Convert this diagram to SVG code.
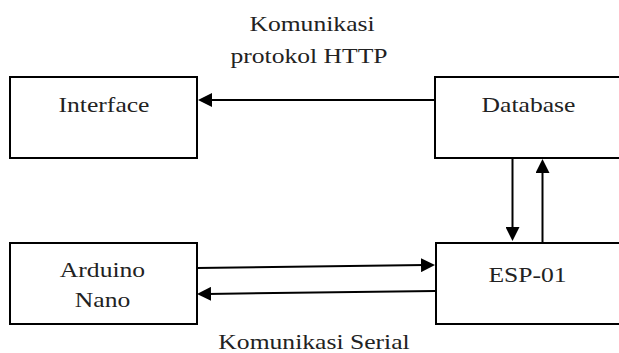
<svg xmlns="http://www.w3.org/2000/svg" width="619" height="353" viewBox="0 0 619 353">
<style>
.box{fill:#fff;stroke:#000;stroke-width:2}
.t{font-family:"Times New Roman","Liberation Serif","DejaVu Serif",serif;font-size:21px;fill:#222;text-anchor:middle}
.c{stroke:#000;stroke-width:2;fill:none;marker-end:url(#ah)}
</style>
<defs>
<marker id="ah" markerUnits="userSpaceOnUse" markerWidth="14" markerHeight="14" viewBox="0 0 14 14" refX="4" refY="7" orient="auto">
<path d="M0,0 L14,7 L0,14 z" fill="#000"/>
</marker>
</defs>
<rect width="619" height="353" fill="#fff"/>
<g id="interface">
<rect class="box" x="10" y="77" width="187" height="81"/>
<text class="t" transform="translate(104,112) scale(1.22,1)">Interface</text>
</g>
<g id="database">
<rect class="box" x="435" y="77" width="188" height="81"/>
<text class="t" transform="translate(528.5,112) scale(1.22,1)">Database</text>
</g>
<g id="arduino">
<rect class="box" x="10" y="243" width="187" height="81"/>
<text class="t" transform="translate(102.5,277) scale(1.22,1)">Arduino</text>
<text class="t" transform="translate(102.5,307) scale(1.22,1)">Nano</text>
</g>
<g id="esp01">
<rect class="box" x="436" y="243" width="188" height="81"/>
<text class="t" transform="translate(527.5,282) scale(1.22,1)">ESP-01</text>
</g>
<g id="connectors">
<line class="c" x1="435" y1="100" x2="208" y2="100"/>
<line class="c" x1="512.5" y1="158" x2="512.5" y2="231"/>
<line class="c" x1="542.5" y1="242" x2="542.5" y2="169"/>
<line class="c" x1="197" y1="268" x2="425" y2="265.1"/>
<line class="c" x1="435" y1="291" x2="207" y2="293.9"/>
</g>
<g id="labels">
<text class="t" transform="translate(312,31) scale(1.22,1)">Komunikasi</text>
<text class="t" transform="translate(309,63) scale(1.22,1)">protokol HTTP</text>
<text class="t" transform="translate(314,349) scale(1.22,1)">Komunikasi Serial</text>
</g>
</svg>
